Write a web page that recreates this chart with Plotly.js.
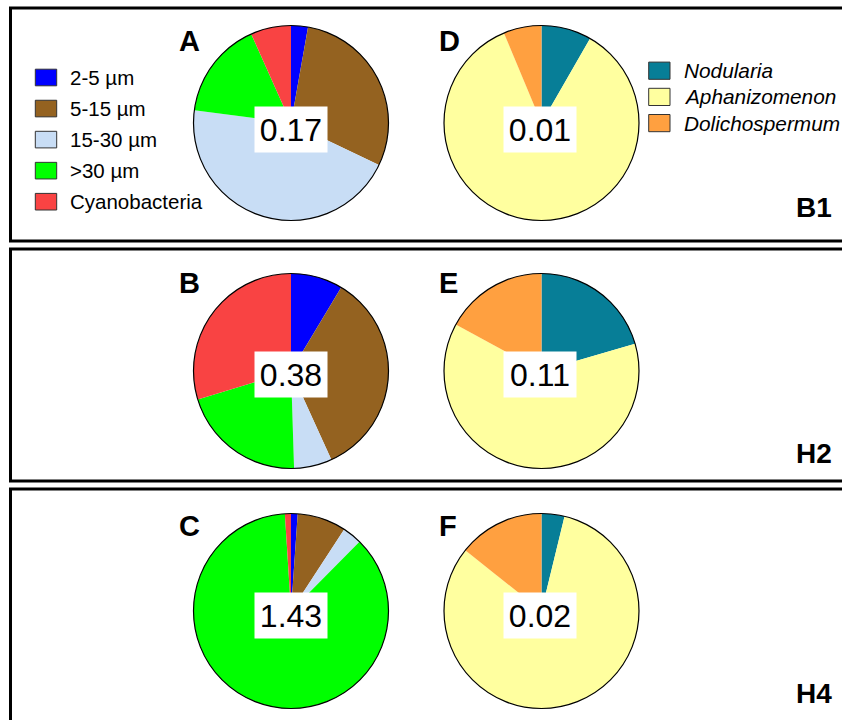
<!DOCTYPE html>
<html>
<head>
<meta charset="utf-8">
<script src="https://cdn.plot.ly/plotly-3.0.1.min.js"></script>
<style>html,body{margin:0;padding:0;background:#fff;}#chart{width:842px;height:720px;}</style>
</head>
<body>
<div id="chart"></div>
<script>
// ---- data ----
const sizeClasses = ['2-5 µm', '5-15 µm', '15-30 µm', '>30 µm', 'Cyanobacteria'];
const sizeColors = ['#0000FF', '#946220', '#C8DDF5', '#00FF00', '#F94343'];
const cyanoTaxa = ['Nodularia', 'Aphanizomenon', 'Dolichospermum'];
const cyanoColors = ['#077E97', '#FFFF9F', '#FFA040'];
const pieA = [2.8, 29.3, 45.0, 16.2, 6.7];
const pieB = [8.6, 34.6, 6.3, 20.8, 29.7];
const pieC = [1.1, 8.1, 3.2, 86.6, 1.0];
const pieD = [8.3, 85.4, 6.3];
const pieE = [20.5, 62.4, 17.1];
const pieF = [3.8, 81.9, 14.3];
const totalsSize = ['0.17', '0.38', '1.43'];
const totalsCyano = ['0.01', '0.11', '0.02'];
const panelLettersSize = ['A', 'B', 'C'];
const panelLettersCyano = ['D', 'E', 'F'];
const stations = ['B1', 'H2', 'H4'];

// ---- layout helpers ----
const W = 842, H = 720;
const FONT = 'Arial, "Liberation Sans", sans-serif';
const px = x => x / W;
const py = y => 1 - y / H;
const R = 97.5;
const colX = [291, 541.5];
const rowY = [123, 371, 611];
const labelDy = [6, 3, 4];
const panelTop = [8, 249, 489];
const panelBot = [241, 481, 770];
const letterY = [41, 283, 526];
const stationY = [208, 453.5, 693.5];

function domain(cx, cy) {
  return { x: [px(cx - R), px(cx + R)], y: [py(cy + R), py(cy - R)] };
}

const traces = [];
const annotations = [];
const shapes = [];

const sizeData = [pieA, pieB, pieC];
const cyanoData = [pieD, pieE, pieF];

for (let r = 0; r < 3; r++) {
  [[sizeClasses, sizeColors, sizeData[r], 0], [cyanoTaxa, cyanoColors, cyanoData[r], 1]].forEach(([labels, colors, vals, c]) => {
    const d = domain(colX[c], rowY[r]);
    traces.push({
      type: 'pie', labels: labels, values: vals, domain: d,
      sort: false, direction: 'clockwise', rotation: 0,
      marker: { colors: colors, line: { width: 0 } },
      textinfo: 'none', hoverinfo: 'label+percent', showlegend: false
    });
    traces.push({
      type: 'pie', labels: ['outline'], values: [1], domain: d,
      marker: { colors: ['rgba(0,0,0,0)'], line: { color: '#000', width: 1.2 } },
      textinfo: 'none', hoverinfo: 'skip', showlegend: false
    });
  });

  // value boxes
  [[totalsSize[r], 0], [totalsCyano[r], 1]].forEach(([t, c]) => {
    annotations.push({
      xref: 'paper', yref: 'paper', x: px(colX[c] + (c ? -2 : 0)), y: py(rowY[r] + labelDy[r]),
      xanchor: 'center', yanchor: 'middle', showarrow: false,
      text: t, font: { family: FONT, size: 32, color: '#000' },
      bgcolor: '#FFFFFF', borderpad: 4, width: 64, height: 37
    });
  });

  // panel letters
  [[panelLettersSize[r], 178], [panelLettersCyano[r], 438]].forEach(([t, x]) => {
    annotations.push({
      xref: 'paper', yref: 'paper', x: px(x - 1), y: py(letterY[r]),
      xanchor: 'left', yanchor: 'middle', showarrow: false,
      text: '<b>' + t + '</b>', font: { family: FONT, size: 29, color: '#000' }
    });
  });

  // station label
  annotations.push({
    xref: 'paper', yref: 'paper', x: px(834), y: py(stationY[r]),
    xanchor: 'right', yanchor: 'middle', showarrow: false,
    text: '<b>' + stations[r] + '</b>', font: { family: FONT, size: 28, color: '#000' }
  });

  // panel frame
  shapes.push({
    type: 'rect', xref: 'paper', yref: 'paper',
    x0: px(10.5), x1: px(900), y0: py(panelTop[r]), y1: py(panelBot[r]),
    line: { color: '#000', width: 3 }, fillcolor: 'rgba(0,0,0,0)', layer: 'below'
  });
}

// legend for size classes
sizeClasses.forEach((lab, i) => {
  const cy = 77.5 + i * 31.05;
  shapes.push({
    type: 'rect', xref: 'paper', yref: 'paper',
    x0: px(35.3), x1: px(56.7), y0: py(cy + 8.3), y1: py(cy - 8.3),
    fillcolor: sizeColors[i], line: { color: '#333', width: 1 }
  });
  annotations.push({
    xref: 'paper', yref: 'paper', x: px(67.5), y: py(cy),
    xanchor: 'left', yanchor: 'middle', showarrow: false,
    text: lab, font: { family: FONT, size: 20.5, color: '#000' }
  });
});

// legend for cyanobacteria taxa
cyanoTaxa.forEach((lab, i) => {
  const cy = 70.7 + i * 26.2;
  shapes.push({
    type: 'rect', xref: 'paper', yref: 'paper',
    x0: px(648.7), x1: px(670), y0: py(cy + 8.6), y1: py(cy - 8.6),
    fillcolor: cyanoColors[i], line: { color: '#333', width: 1 }
  });
  annotations.push({
    xref: 'paper', yref: 'paper', x: px(681.5), y: py(cy),
    xanchor: 'left', yanchor: 'middle', showarrow: false,
    text: '<i>' + lab + '</i>', font: { family: FONT, size: 20.8, color: '#000' }
  });
});

const layout = {
  width: W, height: H,
  margin: { l: 0, r: 0, t: 0, b: 0 },
  paper_bgcolor: '#FFFFFF', plot_bgcolor: '#FFFFFF',
  showlegend: false,
  annotations: annotations,
  shapes: shapes
};

Plotly.newPlot('chart', traces, layout, { displayModeBar: false, staticPlot: true });
</script>
</body>
</html>
